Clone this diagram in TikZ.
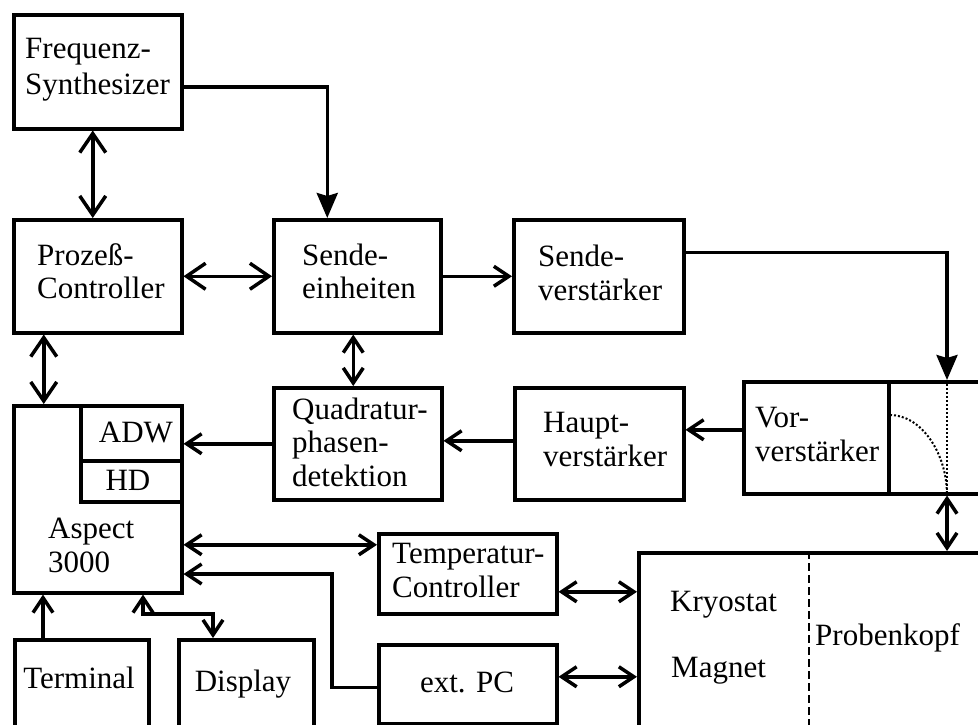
\documentclass[tikz,border=0pt]{standalone}
\usepackage{fontspec}
\setmainfont{Liberation Serif}
\usetikzlibrary{arrows.meta,calc}
\tikzset{
  box/.style={draw, line width=3.5pt, inner sep=0pt, anchor=north west},
  txt/.style={inner sep=0pt, anchor=base west, font=\fontsize{31}{37}\selectfont},
  ctxt/.style={txt, anchor=base},
  conn/.style={line width=3.5pt},
  BigBarb/.tip={Straight Barb[length=19pt,width=26pt]},
  MidBarb/.tip={Straight Barb[length=15pt,width=20pt]},
  SolidTip/.tip={Stealth[length=25pt,width=21pt,inset=3pt]},
}
\begin{document}
\begin{tikzpicture}[x=1pt,y=-1pt]
\useasboundingbox (0,0) rectangle (978,724);
\clip (0,0) rectangle (978,724);
% boxes
\node[box, minimum width=168pt, minimum height=114pt] (freq) at (12,13) {};
\node[box, minimum width=168pt, minimum height=113pt] (proz) at (12,218) {};
\node[box, minimum width=167pt, minimum height=113pt] (sende) at (272,218) {};
\node[box, minimum width=170pt, minimum height=113pt] (sverst) at (512,218) {};
\node[box, minimum width=168pt, minimum height=112pt] (quad) at (272,386) {};
\node[box, minimum width=169pt, minimum height=112pt] (haupt) at (513,386) {};
\node[box, minimum width=145pt, minimum height=112pt] (vor) at (742,380) {};
\node[box, minimum width=140pt, minimum height=112pt] (vorR) at (887,380) {};
\node[box, minimum width=168pt, minimum height=187pt] (aspect) at (12,404) {};
\node[box, minimum width=101pt, minimum height=55pt] (adw) at (79,404) {};
\node[box, minimum width=101pt, minimum height=41pt] (hd) at (79,459) {};
\node[box, minimum width=178pt, minimum height=80pt] (temp) at (377,532) {};
\node[box, minimum width=178pt, minimum height=79pt] (extpc) at (377,643) {};
\node[box, minimum width=134pt, minimum height=120pt] (term) at (13,638) {};
\node[box, minimum width=135pt, minimum height=120pt] (disp) at (177,638) {};
\node[box, minimum width=400pt, minimum height=200pt] (kryo) at (637,551) {};
% texts
\node[txt] (tf1) at (25,58) {Frequenz-};
\node[txt] (tf2) at (25,94) {Synthesizer};
\node[txt] (tp1) at (37,265) {Prozeß-};
\node[txt] (tp2) at (37,298) {Controller};
\node[txt] (ts1) at (302,265) {Sende-};
\node[txt] (ts2) at (302,298) {einheiten};
\node[txt] (tv1) at (538,266) {Sende-};
\node[txt] (tv2) at (538,300) {verstärker};
\node[txt] (tq1) at (292,419) {Quadratur-};
\node[txt] (tq2) at (292,452) {phasen-};
\node[txt] (tq3) at (292,486) {detektion};
\node[txt] (th1) at (543,432) {Haupt-};
\node[txt] (th2) at (543,466) {verstärker};
\node[txt] (tr1) at (755,427) {Vor-};
\node[txt] (tr2) at (755,461) {verstärker};
\node[ctxt] (tadw) at (136,442) {ADW};
\node[ctxt] (thd) at (128,490) {HD};
\node[txt] (ta1) at (48,538) {Aspect};
\node[txt] (ta2) at (48,572) {3000};
\node[txt] (tt1) at (392,563) {Temperatur-};
\node[txt] (tt2) at (392,597) {Controller};
\node[ctxt] (tpc) at (467,692) {ext. PC};
\node[ctxt] (tterm) at (79,688) {Terminal};
\node[ctxt] (tdisp) at (243,691) {Display};
\node[txt] (tk1) at (670,611) {Kryostat};
\node[txt] (tk2) at (671,677) {Magnet};
\node[txt] (tk3) at (815,645) {Probenkopf};
% connectors
\draw[conn, BigBarb-BigBarb] ($(freq.south)+(-5,0)$) -- ($(proz.north)+(-5,0)$);
\draw[conn, -SolidTip] ($(freq.east)+(0,15)$) -| ($(sende.north)+(-30,0)$);
\draw[conn, BigBarb-BigBarb] (proz.east) -- (sende.west);
\draw[conn, -MidBarb] (sende.east) -- (sverst.west);
\draw[conn, -SolidTip] ($(sverst.east)+(0,-24)$) -| ($(vorR.north west)+(60,0)$);
\draw[conn, BigBarb-BigBarb] ($(proz.south)+(-54,0)$) -- ($(aspect.north)+(-54,0)$);
\draw[conn, MidBarb-MidBarb] ($(sende.south)+(-4,0)$) coordinate (sq) -- (sq |- quad.north);
\draw[conn, -MidBarb] (quad.west) -- (quad.west -| adw.east);
\draw[conn, -MidBarb] ($(haupt.west)+(0,-3)$) coordinate (hq) -- (hq -| quad.east);
\draw[conn, -MidBarb] ($(vor.west)+(0,-8)$) coordinate (vh) -- (vh -| haupt.east);
\draw[conn, MidBarb-MidBarb] ($(vorR.south west)+(60,0)$) coordinate (vk) -- (vk |- kryo.north);
\draw[conn, MidBarb-MidBarb] ($(temp.west)+(0,-29)$) coordinate (at) -- (at -| aspect.east);
\coordinate (pcb) at (332,574);
\draw[conn, -MidBarb] ($(extpc.west)+(0,3)$) -| (pcb) -- (pcb -| aspect.east);
\draw[conn, -MidBarb] ($(term.north west)+(30,0)$) coordinate (ta) -- (ta |- aspect.south);
\coordinate (db) at (213,614);
\draw[conn, MidBarb-MidBarb] ($(aspect.south west)+(131,0)$) |- (db) -- (db |- disp.north);
\draw[conn, MidBarb-MidBarb] ($(temp.east)+(0,18)$) coordinate (tk) -- (tk -| kryo.west);
\draw[conn, MidBarb-MidBarb] ($(extpc.east)+(0,-7.5)$) coordinate (pk) -- (pk -| kryo.west);
% dotted and dashed lines
\draw[line width=2pt, dotted] ($(vorR.north west)+(60,0)$) -- ($(vorR.south west)+(60,0)$);
\draw[line width=2pt, dotted] ($(vorR.north west)+(3,35)$) .. controls +(31,0) and +(0,-43) .. ($(vorR.south west)+(60,0)$);
\draw[line width=2.5pt, dash pattern=on 8pt off 4pt] ($(kryo.north west)+(172,0)$) coordinate (kd) -- (kd |- kryo.south);
\end{tikzpicture}
\end{document}
